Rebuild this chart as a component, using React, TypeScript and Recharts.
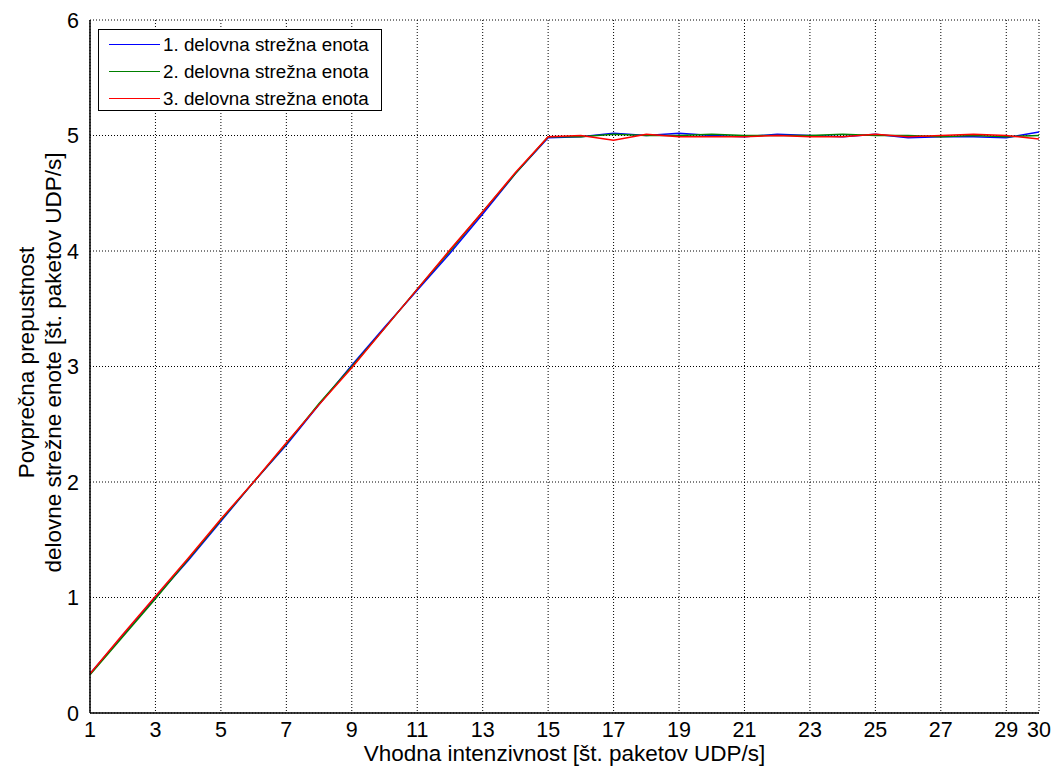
import { CartesianGrid, Line, LineChart, XAxis, YAxis } from "recharts";

const intensity = [1, 2, 3, 4, 5, 6, 7, 8, 9, 10, 11, 12, 13, 14, 15, 16, 17, 18, 19, 20, 21, 22, 23, 24, 25, 26, 27, 28, 29, 30];

const unit1 = [0.34, 0.67, 1.0, 1.32, 1.66, 2.0, 2.32, 2.67, 3.01, 3.34, 3.66, 3.98, 4.32, 4.67, 4.98,
  4.99, 5.02, 5.0, 5.02, 5.0, 4.99, 5.01, 5.0, 4.99, 5.01, 4.98, 4.99, 4.99, 4.98, 5.03];
const unit2 = [0.33, 0.66, 0.99, 1.33, 1.67, 2.0, 2.33, 2.68, 3.0, 3.33, 3.67, 4.0, 4.34, 4.67, 4.99,
  4.99, 5.01, 5.0, 5.0, 5.01, 5.0, 5.0, 5.0, 5.01, 5.0, 5.0, 4.99, 5.0, 4.99, 5.0];
const unit3 = [0.34, 0.68, 1.01, 1.34, 1.68, 2.0, 2.34, 2.67, 2.99, 3.33, 3.67, 4.01, 4.34, 4.68, 4.99,
  5.0, 4.96, 5.01, 4.99, 4.99, 4.99, 5.0, 4.99, 4.99, 5.01, 4.99, 5.0, 5.01, 5.0, 4.97];

const xTicks = [1, 3, 5, 7, 9, 11, 13, 15, 17, 19, 21, 23, 25, 27, 29, 30];
const yTicks = [0, 1, 2, 3, 4, 5, 6];

const SERIES = [
  { key: "u1", label: "1. delovna strežna enota", color: "#0000ff" },
  { key: "u2", label: "2. delovna strežna enota", color: "#008000" },
  { key: "u3", label: "3. delovna strežna enota", color: "#ff0000" },
];

const data = intensity.map((x, i) => ({ x, u1: unit1[i], u2: unit2[i], u3: unit3[i] }));

const FONT = "'Liberation Sans', Arial, sans-serif";

function LegendBox() {
  return (
    <div
      style={{
        position: "absolute",
        left: 98,
        top: 29,
        width: 284,
        height: 82,
        boxSizing: "border-box",
        border: "1px solid #000",
        background: "#fff",
        paddingTop: 1,
        fontFamily: FONT,
        fontSize: 18.8,
        color: "#000",
      }}
    >
      {SERIES.map((s) => (
        <div key={s.key} style={{ display: "flex", alignItems: "center", height: 27 }}>
          <span style={{ display: "inline-block", width: 51, height: 1, background: s.color, marginLeft: 10, marginRight: 3 }} />
          <span>{s.label}</span>
        </div>
      ))}
    </div>
  );
}

export default function App() {
  return (
    <div style={{ position: "absolute", left: 0, top: 0, width: 1056, height: 771, background: "#fff" }}>
      <LineChart width={1056} height={771} data={data} margin={{ top: 20, right: 17, left: 0, bottom: 0 }}>
        <CartesianGrid stroke="#000" strokeDasharray="1 2" strokeWidth={1} />
        <XAxis
          dataKey="x"
          type="number"
          domain={[1, 30]}
          ticks={xTicks}
          interval={0}
          height={58}
          stroke="#000"
          strokeWidth={1.5}
          tickLine={false}
          tick={{ fill: "#000", fontFamily: FONT, fontSize: 21.5 }}
          tickMargin={3}
          label={({ viewBox }: any) => (
            <text x={viewBox.x + viewBox.width / 2} y={761} textAnchor="middle" fontFamily={FONT} fontSize={22.5} fill="#000">
              Vhodna intenzivnost [št. paketov UDP/s]
            </text>
          )}
        />
        <XAxis xAxisId="top" dataKey="x" type="number" domain={[1, 30]} orientation="top" height={0} tick={false} tickLine={false} stroke="#000" strokeWidth={1.5} />
        <YAxis
          type="number"
          domain={[0, 6]}
          ticks={yTicks}
          width={90}
          stroke="#000"
          strokeWidth={1.5}
          tickLine={false}
          tick={{ fill: "#000", fontFamily: FONT, fontSize: 21.5 }}
          tickMargin={5}
          label={({ viewBox }: any) => {
            const cy = viewBox.y + viewBox.height / 2 - 4;
            return (
              <g fontFamily={FONT} fontSize={22.5} fill="#000">
                <text x={26} y={cy} textAnchor="middle" dominantBaseline="central" transform={`rotate(-90 26 ${cy})`}>
                  Povprečna prepustnost
                </text>
                <text x={53} y={cy} textAnchor="middle" dominantBaseline="central" transform={`rotate(-90 53 ${cy})`}>
                  delovne strežne enote [št. paketov UDP/s]
                </text>
              </g>
            );
          }}
        />
        <YAxis yAxisId="right" orientation="right" domain={[0, 6]} width={0} tick={false} tickLine={false} stroke="#000" strokeWidth={1.5} />
        {SERIES.map((s) => (
          <Line
            key={s.key}
            type="linear"
            dataKey={s.key}
            name={s.label}
            stroke={s.color}
            strokeWidth={1.5}
            dot={false}
            isAnimationActive={false}
          />
        ))}
      </LineChart>
      <LegendBox />
    </div>
  );
}
